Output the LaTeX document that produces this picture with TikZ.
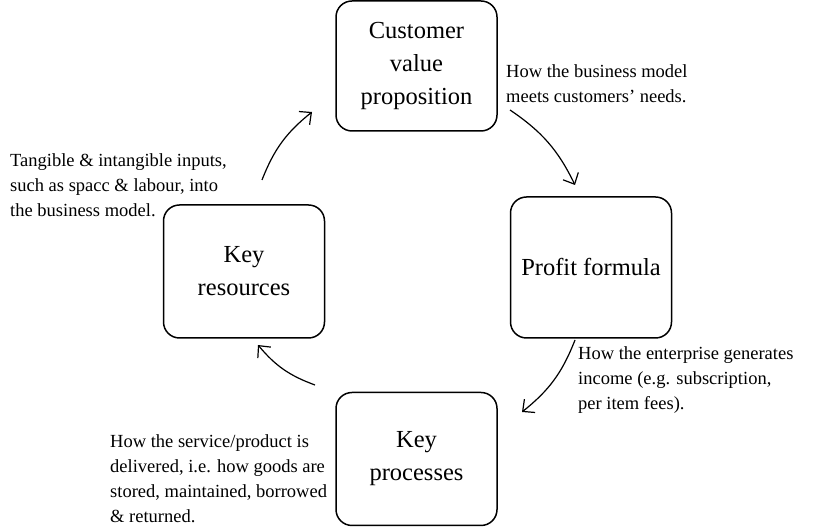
\documentclass[tikz,border=0pt]{standalone}
\usepackage{fontspec}
\setmainfont{Liberation Serif}
\usetikzlibrary{arrows.meta}
\tikzset{
  block/.style = {draw, line width=1.5pt, rounded corners=16pt, fill=white, rectangle,
                  minimum width=161pt, minimum height=130pt, align=center,
                  font=\fontsize{24.5}{33}\selectfont},
  note/.style  = {inner sep=0pt, anchor=north west, align=left,
                  font=\fontsize{18.5}{25}\selectfont},
  tip/.style   = {coordinate},
}

\begin{document}
\begin{tikzpicture}[x=1pt, y=1pt, >={Straight Barb[length=9pt,width=17pt]}]
    \useasboundingbox (0,0) rectangle (827,529);
    % the four boxes of the cycle
    \node [block] (value) at (416.5,463) {Customer\\value\\proposition};
    \node [block, minimum height=141pt] (profit) at (591,261.5) {Profit formula};
    \node [block, minimum height=133pt] (processes) at (416.5,70) {Key\\processes};
    \node [block, minimum height=133pt] (resources) at (244,257.5) {Key\\resources};
    % notes
    \node [note] (valuenote) at (506,465) {How the business model\\meets customers' needs.};
    \node [note] (profitnote) at (578,183) {How the enterprise generates\\income (e.g. subscription,\\per item fees).};
    \node [note] (processnote) at (110,95) {How the service/product is\\delivered, i.e. how goods are\\stored, maintained, borrowed\\\& returned.};
    \node [note] (resourcenote) at (10,376) {Tangible \& intangible inputs,\\such as spacc \& labour, into\\the business model.};
    % arrow ends
    \node [tip] (res-out) at (262,349) {};
    \node [tip] (val-in) at (312,417) {};
    \node [tip] (val-out) at (510,419) {};
    \node [tip] (pro-in) at (575,344) {};
    \node [tip] (pro-out) at (575,189) {};
    \node [tip] (proc-in) at (522,117) {};
    \node [tip] (proc-out) at (315,144) {};
    \node [tip] (res-in) at (258,184) {};
    \draw [->, line width=1.2pt] (res-out) to[bend left=15] (val-in);
    \draw [->, line width=1.2pt] (val-out) to[bend left=15] (pro-in);
    \draw [->, line width=1.2pt] (pro-out) to[bend left=15] (proc-in);
    \draw [->, line width=1.2pt] (proc-out) to[bend left=15] (res-in);
\end{tikzpicture}
\end{document}
